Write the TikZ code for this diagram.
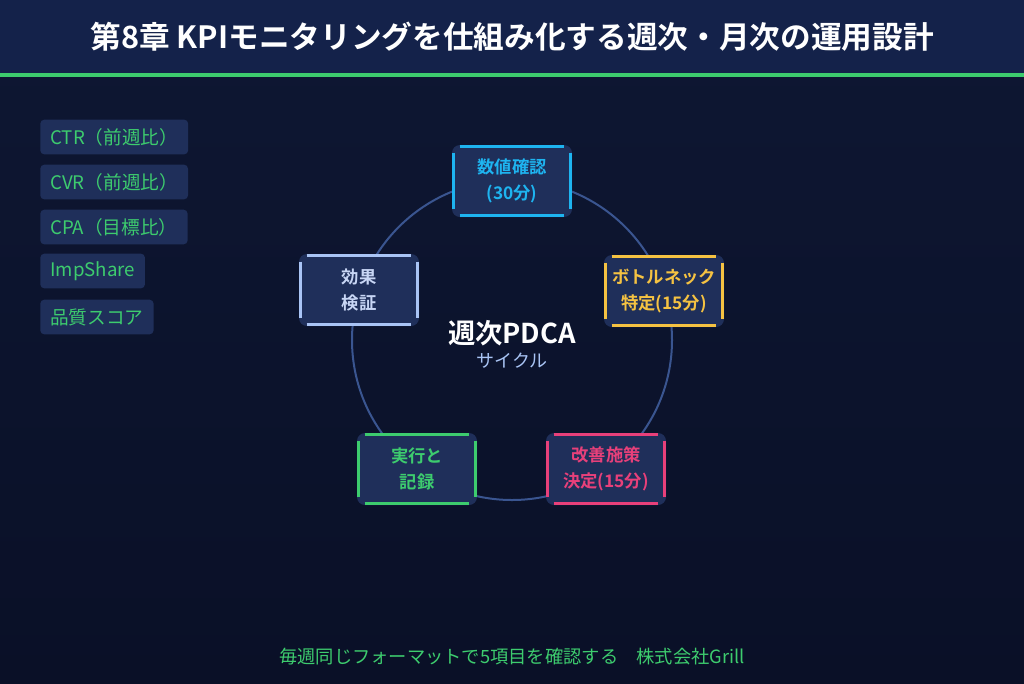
\documentclass[tikz,border=0pt]{standalone}
\usepackage{fontspec}
\setmainfont{Noto Sans CJK JP}[BoldFont={Noto Sans CJK JP Bold}]
\usetikzlibrary{positioning}
\definecolor{bgtop}{HTML}{0E1733}
\definecolor{bgbot}{HTML}{0A1027}
\definecolor{band}{HTML}{14224A}
\definecolor{accent}{HTML}{3DCC6E}
\definecolor{boxfill}{HTML}{1F2F5A}
\definecolor{ring}{HTML}{3A5590}
\definecolor{cyanc}{HTML}{1EB4F0}
\definecolor{yellc}{HTML}{F5C242}
\definecolor{pinkc}{HTML}{E8407A}
\definecolor{greenc}{HTML}{3DCC6E}
\definecolor{lightc}{HTML}{A9C4F5}
\definecolor{lighttxt}{HTML}{C8D6F5}
\tikzset{
  phase/.style={fill=boxfill, rounded corners=6pt, minimum width=90pt, minimum height=54pt,
    align=center, font=\bfseries\fontsize{13}{19.5}\selectfont, inner sep=0pt},
  tag/.style={fill=boxfill, rounded corners=3pt, minimum height=26pt, anchor=west,
    inner xsep=7.5pt, text=accent, font=\fontsize{14}{16}\selectfont},
  bar/.style={line width=2.3pt}
}
% phase box with coloured edge bars
\newcommand\phasebox[5]{%
  \node[phase, text=#4] (#1) at #2 {#5};
  \draw[bar, #3] ([xshift=6pt,yshift=-1pt]#1.north west) -- ([xshift=-6pt,yshift=-1pt]#1.north east);
  \draw[bar, #3] ([xshift=6pt,yshift=1pt]#1.south west) -- ([xshift=-6pt,yshift=1pt]#1.south east);
  \draw[bar, #3] ([xshift=1pt,yshift=-6pt]#1.north west) -- ([xshift=1pt,yshift=6pt]#1.south west);
  \draw[bar, #3] ([xshift=-1pt,yshift=-6pt]#1.north east) -- ([xshift=-1pt,yshift=6pt]#1.south east);
}
\begin{document}
\begin{tikzpicture}[x=0.75pt, y=-0.75pt]
\useasboundingbox (0,0) rectangle (1024,683);
\shade[top color=bgtop, bottom color=bgbot] (0,0) rectangle (1024,683);
\fill[band] (0,0) rectangle (1024,73);
\fill[accent] (0,73) rectangle (1024,76.5);
\node[text=white, font=\bfseries\fontsize{23}{26}\selectfont] (title) at (512,37)
  {第8章 KPIモニタリングを仕組み化する週次・月次の運用設計};

% ring
\draw[ring, line width=1.5pt] (512,340) circle (120pt);
\phasebox{check}{(512,181)}{cyanc}{cyanc}{数値確認\\(30分)}
\phasebox{neck}{(664,291)}{yellc}{yellc}{ボトルネック\\特定(15分)}
\phasebox{plan}{(606,469)}{pinkc}{pinkc}{改善施策\\決定(15分)}
\phasebox{act}{(417,469)}{greenc}{greenc}{実行と\\記録}
\phasebox{eval}{(359,290)}{lightc}{lighttxt}{効果\\検証}

\node[text=white, font=\bfseries\fontsize{20.5}{22}\selectfont] (cycle) at (512,333) {週次PDCA};
\node[text=lightc, font=\fontsize{13.5}{15}\selectfont, below=-2pt of cycle] (sub) {サイクル};

% KPI tags
\node[tag] (ctr) at (40,137) {CTR（前週比）};
\node[tag] (cvr) at (40,182) {CVR（前週比）};
\node[tag] (cpa) at (40,227) {CPA（目標比）};
\node[tag] (imp) at (40,271) {ImpShare};
\node[tag] (qual) at (40,317) {品質スコア};

\node[text=accent, font=\fontsize{13.7}{15}\selectfont] (foot) at (512,657)
  {毎週同じフォーマットで5項目を確認する\quad 株式会社Grill};
\end{tikzpicture}
\end{document}
